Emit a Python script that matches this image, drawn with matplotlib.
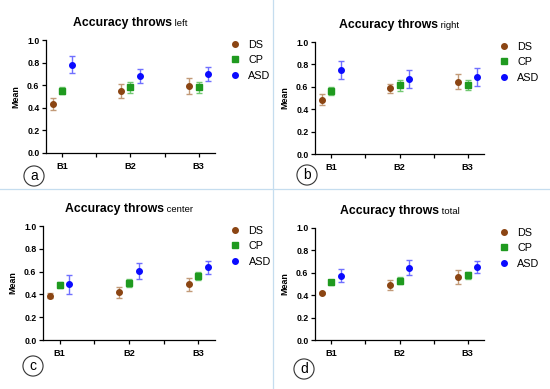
import matplotlib
matplotlib.use("Agg")
import matplotlib.pyplot as plt
from matplotlib.lines import Line2D
import numpy as np

plt.rcParams['font.family'] = ['Liberation Sans', 'DejaVu Sans']

blocks = ["B1", "B2", "B3"]
groups = ["DS", "CP", "ASD"]
panels = ["left", "right", "center", "total"]
letters = ["a", "b", "c", "d"]

# means / error half-widths per panel, group, block
left_mean = {"DS": [0.434, 0.55, 0.596], "CP": [0.55, 0.58, 0.58], "ASD": [0.78, 0.68, 0.70]}
left_err = {"DS": [0.05, 0.065, 0.07], "CP": [0.03, 0.05, 0.045], "ASD": [0.075, 0.06, 0.06]}
right_mean = {"DS": [0.485, 0.585, 0.644], "CP": [0.564, 0.614, 0.617], "ASD": [0.754, 0.668, 0.688]}
right_err = {"DS": [0.05, 0.04, 0.068], "CP": [0.037, 0.048, 0.048], "ASD": [0.08, 0.08, 0.077]}
center_mean = {"DS": [0.389, 0.418, 0.488], "CP": [0.482, 0.497, 0.561], "ASD": [0.488, 0.605, 0.64]}
center_err = {"DS": [0.022, 0.047, 0.06], "CP": [0.03, 0.035, 0.034], "ASD": [0.083, 0.073, 0.057]}
total_mean = {"DS": [0.423, 0.494, 0.563], "CP": [0.515, 0.53, 0.577], "ASD": [0.574, 0.646, 0.655]}
total_err = {"DS": [0.01, 0.045, 0.06], "CP": [0.025, 0.034, 0.034], "ASD": [0.058, 0.064, 0.054]}

means = [left_mean, right_mean, center_mean, total_mean]
errs = [left_err, right_err, center_err, total_err]

colors = {"DS": "#8b4513", "CP": "#1f9a1f", "ASD": "#0a0aff"}
ecolors = {"DS": "#c29a78", "CP": "#72c872", "ASD": "#7070ff"}
markers = {"DS": "o", "CP": "s", "ASD": "o"}
msizes = {"DS": 4.0, "CP": 3.8, "ASD": 4.0}
offsets = {"DS": -0.14, "CP": 0.0, "ASD": 0.14}

W, H = 550, 389
fig = plt.figure(figsize=(5.5, 3.89), dpi=100)

# axes boxes in pixels: left, top, right, bottom
boxes = [(46, 40, 215, 153), (315, 42, 484, 154), (43, 226, 215, 340), (315, 228, 484, 340)]
letter_pos = [(34, 176), (307, 175), (33, 366), (304, 369)]

axes = []
for i, (l, t, r, b) in enumerate(boxes):
    ax = fig.add_axes([l / W, 1 - b / H, (r - l) / W, (b - t) / H])
    axes.append(ax)
    x = np.arange(len(blocks))
    for g in groups:
        ax.errorbar(x + offsets[g], means[i][g], yerr=errs[i][g], fmt='none',
                    ecolor=ecolors[g], elinewidth=1.0, capsize=2.4, capthick=1.0, zorder=2)
        ax.plot(x + offsets[g], means[i][g], linestyle='none', marker=markers[g],
                color=colors[g], ms=msizes[g], zorder=3)
    ax.set_xlim(-0.24, 2.24)
    ax.set_ylim(0, 1.0)
    ax.set_yticks([0, 0.2, 0.4, 0.6, 0.8, 1.0])
    ax.set_yticklabels(["0.0", "0.2", "0.4", "0.6", "0.8", "1.0"], fontsize=6.3, fontweight='bold')
    ax.set_xticks(x)
    ax.set_xticks([0.5, 1.5], minor=True)
    ax.set_xticklabels(blocks, fontsize=6.6, fontweight='bold')
    ax.tick_params(axis='both', which='both', length=3.2, width=0.9, pad=1.5)
    ax.tick_params(axis='x', which='major', pad=3)
    for s in ['top', 'right']:
        ax.spines[s].set_visible(False)
    for s in ['left', 'bottom']:
        ax.spines[s].set_linewidth(0.9)
    ax.set_ylabel("Mean", fontsize=6.4, fontweight='bold', labelpad=5)
    ax.patch.set_alpha(0)

    handles = [Line2D([], [], linestyle='none', marker=markers[g], color=colors[g], ms=msizes[g])
               for g in groups]
    ax.legend(handles, groups, loc='upper left', bbox_to_anchor=(1.06, 1.04), frameon=False,
              fontsize=7.8, handlelength=1.0, handletextpad=0.75, labelspacing=0.5, borderaxespad=0)

    lx, ly = letter_pos[i]
    fig.text(lx / W, 1 - ly / H, letters[i], ha='center', va='center', fontsize=10,
             bbox=dict(boxstyle='circle,pad=0.22', fc='white', ec='#333333', lw=0.8))

# titles (bold main part + small regular suffix), centred over each axes
fig.canvas.draw()
renderer = fig.canvas.get_renderer()
for i, ax in enumerate(axes):
    l, t, r, b = boxes[i]
    cx = (l + r) / 2
    ty = t - 14
    t1 = fig.text(0, 1 - ty / H, "Accuracy throws", fontsize=8.8, fontweight='bold',
                  ha='left', va='baseline')
    t2 = fig.text(0, 1 - ty / H, " " + panels[i], fontsize=6.8, ha='left', va='baseline')
    w1 = t1.get_window_extent(renderer).width
    w2 = t2.get_window_extent(renderer).width
    x0 = cx - (w1 + w2) / 2
    t1.set_x(x0 / W)
    t2.set_x((x0 + w1) / W)

# light blue separators
sep = "#c5ddef"
fig.add_artist(Line2D([273 / W, 273 / W], [0, 1], color=sep, lw=0.9, transform=fig.transFigure))
fig.add_artist(Line2D([0, 1], [1 - 189 / H, 1 - 189 / H], color=sep, lw=0.9, transform=fig.transFigure))

fig.savefig("out.png", dpi=100)
